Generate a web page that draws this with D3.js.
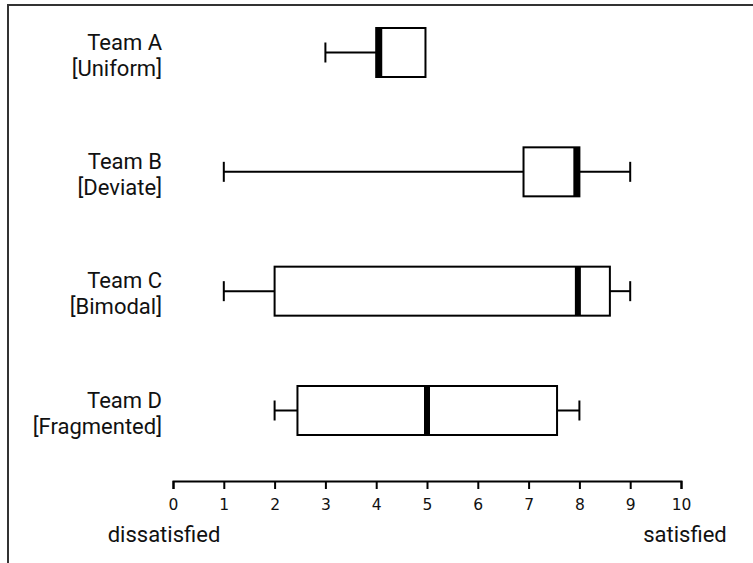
<!DOCTYPE html>
<html>
<head>
<meta charset="utf-8">
<script src="https://cdn.jsdelivr.net/npm/d3@7"></script>
<style>
  html, body { margin: 0; padding: 0; background: #fff; }
  svg { display: block; }
</style>
</head>
<body>
<svg id="chart" width="753" height="563"></svg>
<script>
// ---- data ----
const teams = ["Team A", "Team B", "Team C", "Team D"];
const types = ["[Uniform]", "[Deviate]", "[Bimodal]", "[Fragmented]"];
const mins    = [3.0, 1.0, 1.0, 2.0];
const q1s     = [4.0, 6.9, 2.0, 2.45];
const medians = [4.06, 7.94, 7.97, 5.0];
const q3s     = [4.97, 8.0, 8.6, 7.56];
const maxs    = [4.97, 9.0, 9.0, 8.0];
const tickValues = [0, 1, 2, 3, 4, 5, 6, 7, 8, 9, 10];
const axisLabels = ["dissatisfied", "satisfied"];

// ---- layout ----
const svg = d3.select("#chart");
const x = d3.scaleLinear().domain([0, 10]).range([173, 681]);
const y = d3.scalePoint().domain(teams).range([52.5, 410.5]);
const boxH = 49, capH = 20;
const labelFont = "Roboto, 'Noto Sans', sans-serif";

// frame
svg.append("rect")
  .attr("x", 8).attr("y", 5)
  .attr("width", 800).attr("height", 600)
  .attr("fill", "none").attr("stroke", "#333").attr("stroke-width", 2);

const rows = teams.map((t, i) => ({
  team: t, type: types[i], min: mins[i], q1: q1s[i], med: medians[i], q3: q3s[i], max: maxs[i]
}));

const g = svg.selectAll("g.row").data(rows).join("g").attr("class", "row");

// whiskers
g.filter(d => d.min < d.q1).append("line")
  .attr("x1", d => x(d.min)).attr("x2", d => x(d.q1))
  .attr("y1", d => y(d.team)).attr("y2", d => y(d.team))
  .attr("stroke", "#000").attr("stroke-width", 2);
g.filter(d => d.min < d.q1).append("line")
  .attr("x1", d => x(d.min)).attr("x2", d => x(d.min))
  .attr("y1", d => y(d.team) - capH / 2).attr("y2", d => y(d.team) + capH / 2)
  .attr("stroke", "#000").attr("stroke-width", 2);
g.filter(d => d.max > d.q3).append("line")
  .attr("x1", d => x(d.q3)).attr("x2", d => x(d.max))
  .attr("y1", d => y(d.team)).attr("y2", d => y(d.team))
  .attr("stroke", "#000").attr("stroke-width", 2);
g.filter(d => d.max > d.q3).append("line")
  .attr("x1", d => x(d.max)).attr("x2", d => x(d.max))
  .attr("y1", d => y(d.team) - capH / 2).attr("y2", d => y(d.team) + capH / 2)
  .attr("stroke", "#000").attr("stroke-width", 2);

// box
g.append("rect")
  .attr("x", d => x(d.q1)).attr("width", d => x(d.q3) - x(d.q1))
  .attr("y", d => y(d.team) - boxH / 2).attr("height", boxH)
  .attr("fill", "#fff").attr("stroke", "#000").attr("stroke-width", 2);

// median
g.append("line")
  .attr("x1", d => x(d.med)).attr("x2", d => x(d.med))
  .attr("y1", d => y(d.team) - boxH / 2).attr("y2", d => y(d.team) + boxH / 2)
  .attr("stroke", "#000").attr("stroke-width", 6);

// labels
g.append("text")
  .attr("x", 162).attr("y", d => y(d.team) - 3)
  .attr("text-anchor", "end")
  .attr("font-family", labelFont).attr("font-size", 22)
  .attr("fill", "#111")
  .text(d => d.team);
g.append("text")
  .attr("x", 162).attr("y", d => y(d.team) + 23)
  .attr("text-anchor", "end")
  .attr("font-family", labelFont).attr("font-size", 22)
  .attr("fill", "#111")
  .text(d => d.type);

// axis
const axis = d3.axisBottom(x).tickValues(tickValues).tickSize(8).tickPadding(10)
  .tickFormat(d3.format("d"));
const ax = svg.append("g").attr("transform", "translate(0,481)").call(axis);
ax.selectAll("path, line").attr("stroke", "#000").attr("stroke-width", 2);
ax.selectAll("text").attr("font-family", "'DejaVu Sans', sans-serif")
  .attr("font-size", 15.5).attr("fill", "#111");

svg.append("text")
  .attr("x", x(0) - 9).attr("y", 542).attr("text-anchor", "middle")
  .attr("font-family", labelFont).attr("font-size", 22).attr("fill", "#111")
  .text(axisLabels[0]);
svg.append("text")
  .attr("x", x(10) + 4).attr("y", 542).attr("text-anchor", "middle")
  .attr("font-family", labelFont).attr("font-size", 22).attr("fill", "#111")
  .text(axisLabels[1]);
</script>
</body>
</html>
